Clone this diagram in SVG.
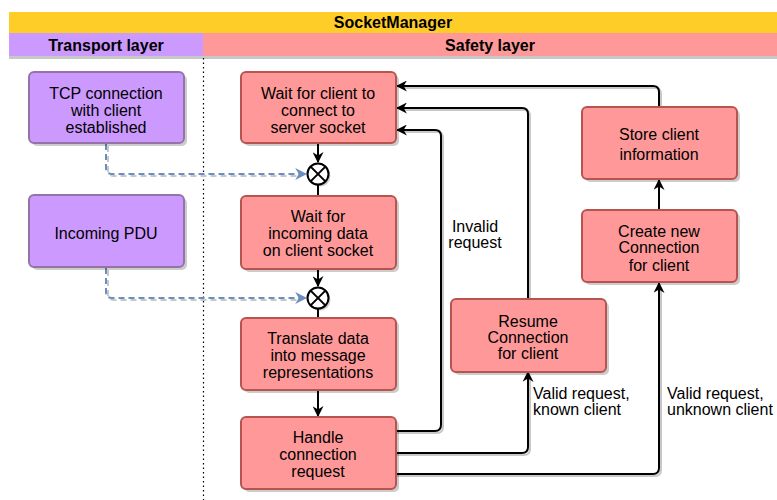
<svg xmlns="http://www.w3.org/2000/svg" width="777" height="500" viewBox="0 0 777 500">
<style>
text{font-family:"Liberation Sans",Arial,sans-serif;font-size:16px;fill:#000;text-anchor:middle}
.b{font-weight:bold}
.l{text-anchor:start}
.red{fill:#FF9999;stroke:#B85450;stroke-width:2}
.pur{fill:#CC99FF;stroke:#9673A6;stroke-width:2}
.sh{fill:#000;opacity:0.2}
.ln{fill:none;stroke:#000;stroke-width:2}
.lsh{fill:none;stroke:#c8c8c8;stroke-width:2}
.ds{fill:none;stroke:#6C8EBF;stroke-width:2;stroke-dasharray:6 4}
.dsh{fill:none;stroke:#c8c8c8;stroke-width:2;stroke-dasharray:6 4}
</style>
<defs>
<marker id="ar" viewBox="0 0 10 10" refX="9" refY="5" markerWidth="5.5" markerHeight="5.5" orient="auto" markerUnits="strokeWidth">
<path d="M0,0 L10,5 L0,10 L3,5 Z" fill="#000"/>
</marker>
<marker id="ab" viewBox="0 0 10 10" refX="9" refY="5" markerWidth="6" markerHeight="6" orient="auto" markerUnits="strokeWidth">
<path d="M0,0 L10,5 L0,10 L3,5 Z" fill="#6C8EBF"/>
</marker>
</defs>
<g id="swimlane">
<rect x="9" y="35" width="768" height="24" fill="#c8c8c8"/>
<rect x="9" y="12" width="768" height="21" fill="#FFCD28"/>
<rect x="9" y="33" width="194" height="23" fill="#CC99FF"/>
<rect x="203" y="33" width="574" height="23" fill="#FF9999"/>
<text class="b" x="393" y="28">SocketManager</text>
<text class="b" x="106" y="51">Transport layer</text>
<text class="b" x="490" y="51">Safety layer</text>
<line x1="203.5" y1="58" x2="203.5" y2="500" stroke="#000" stroke-width="1.2" stroke-dasharray="1.5 3"/>
</g>
<g id="connectors">
<g transform="translate(2,2)">
<path class="lsh" d="M395,431 H435 Q441,431 441,425 V136 Q441,130 435,130 H400"/>
<path class="lsh" d="M528,298 V114 Q528,108 522,108 H400"/>
<path class="lsh" d="M659,107 V92 Q659,86 653,86 H400"/>
<path class="lsh" d="M395,453 H522 Q528,453 528,447 V375"/>
<path class="lsh" d="M395,474 H653 Q659,474 659,468 V286"/>
</g>
<path class="dsh" d="M108,146 V170 Q108,176 114,176 H300"/>
<path class="ds" d="M106,144 V168 Q106,174 112,174 H306" marker-end="url(#ab)"/>
<path class="dsh" d="M108,270 V294 Q108,300 114,300 H300"/>
<path class="ds" d="M106,268 V292 Q106,298 112,298 H306" marker-end="url(#ab)"/>
<path class="ln" d="M318,143 V162" marker-end="url(#ar)"/>
<path class="ln" d="M318,185 V196"/>
<path class="ln" d="M318,269 V286" marker-end="url(#ar)"/>
<path class="ln" d="M318,309 V318"/>
<path class="ln" d="M318,390 V416" marker-end="url(#ar)"/>
<path class="ln" d="M395,431 H435 Q441,431 441,425 V136 Q441,130 435,130 H397" marker-end="url(#ar)"/>
<path class="ln" d="M528,298 V114 Q528,108 522,108 H397" marker-end="url(#ar)"/>
<path class="ln" d="M659,107 V92 Q659,86 653,86 H397" marker-end="url(#ar)"/>
<path class="ln" d="M395,453 H522 Q528,453 528,447 V372" marker-end="url(#ar)"/>
<path class="ln" d="M395,474 H653 Q659,474 659,468 V283" marker-end="url(#ar)"/>
<path class="ln" d="M659,210 V180" marker-end="url(#ar)"/>
<text x="475" y="232">Invalid</text>
<text x="475" y="248">request</text>
<text class="l" x="533" y="399">Valid request,</text>
<text class="l" x="533" y="415">known client</text>
<text class="l" x="667" y="399">Valid request,</text>
<text class="l" x="667" y="415">unknown client</text>
</g>
<g id="tcp">
<rect class="sh" x="32" y="75" width="155" height="71" rx="5"/>
<rect class="pur" x="29" y="72" width="155" height="71" rx="5"/>
<text x="106" y="99">TCP connection</text>
<text x="106" y="116">with client</text>
<text x="106" y="133">established</text>
</g>
<g id="pdu">
<rect class="sh" x="32" y="198" width="155" height="72" rx="5"/>
<rect class="pur" x="29" y="195" width="155" height="72" rx="5"/>
<text x="106" y="239">Incoming PDU</text>
</g>
<g id="wait-client">
<rect class="sh" x="244" y="75" width="155" height="71" rx="5"/>
<rect class="red" x="241" y="72" width="155" height="71" rx="5"/>
<text x="318" y="99">Wait for client to</text>
<text x="318" y="116">connect to</text>
<text x="318" y="133">server socket</text>
</g>
<g id="join1">
<circle cx="320" cy="176" r="10.5" fill="#000" opacity="0.2"/>
<circle cx="318" cy="174" r="10.5" fill="#fff" stroke="#000" stroke-width="2"/>
<path d="M310.6,166.6 L325.4,181.4 M325.4,166.6 L310.6,181.4" stroke="#000" stroke-width="2"/>
</g>
<g id="wait-data">
<rect class="sh" x="244" y="199" width="155" height="73" rx="5"/>
<rect class="red" x="241" y="196" width="155" height="73" rx="5"/>
<text x="318" y="222">Wait for</text>
<text x="318" y="239">incoming data</text>
<text x="318" y="256">on client socket</text>
</g>
<g id="join2">
<circle cx="320" cy="300" r="10.5" fill="#000" opacity="0.2"/>
<circle cx="318" cy="298" r="10.5" fill="#fff" stroke="#000" stroke-width="2"/>
<path d="M310.6,290.6 L325.4,305.4 M325.4,290.6 L310.6,305.4" stroke="#000" stroke-width="2"/>
</g>
<g id="translate">
<rect class="sh" x="244" y="321" width="155" height="72" rx="5"/>
<rect class="red" x="241" y="318" width="155" height="72" rx="5"/>
<text x="318" y="344">Translate data</text>
<text x="318" y="361">into message</text>
<text x="318" y="378">representations</text>
</g>
<g id="handle">
<rect class="sh" x="244" y="420" width="155" height="72" rx="5"/>
<rect class="red" x="241" y="417" width="155" height="72" rx="5"/>
<text x="318" y="443">Handle</text>
<text x="318" y="460">connection</text>
<text x="318" y="477">request</text>
</g>
<g id="resume">
<rect class="sh" x="454" y="302" width="155" height="73" rx="5"/>
<rect class="red" x="451" y="299" width="155" height="73" rx="5"/>
<text x="528" y="327">Resume</text>
<text x="528" y="343">Connection</text>
<text x="528" y="359">for client</text>
</g>
<g id="create">
<rect class="sh" x="585" y="213" width="155" height="72" rx="5"/>
<rect class="red" x="582" y="210" width="155" height="72" rx="5"/>
<text x="659" y="237">Create new</text>
<text x="659" y="253">Connection</text>
<text x="659" y="271">for client</text>
</g>
<g id="store">
<rect class="sh" x="585" y="110" width="155" height="72" rx="5"/>
<rect class="red" x="582" y="107" width="155" height="72" rx="5"/>
<text x="659" y="140">Store client</text>
<text x="659" y="160">information</text>
</g>
</svg>
